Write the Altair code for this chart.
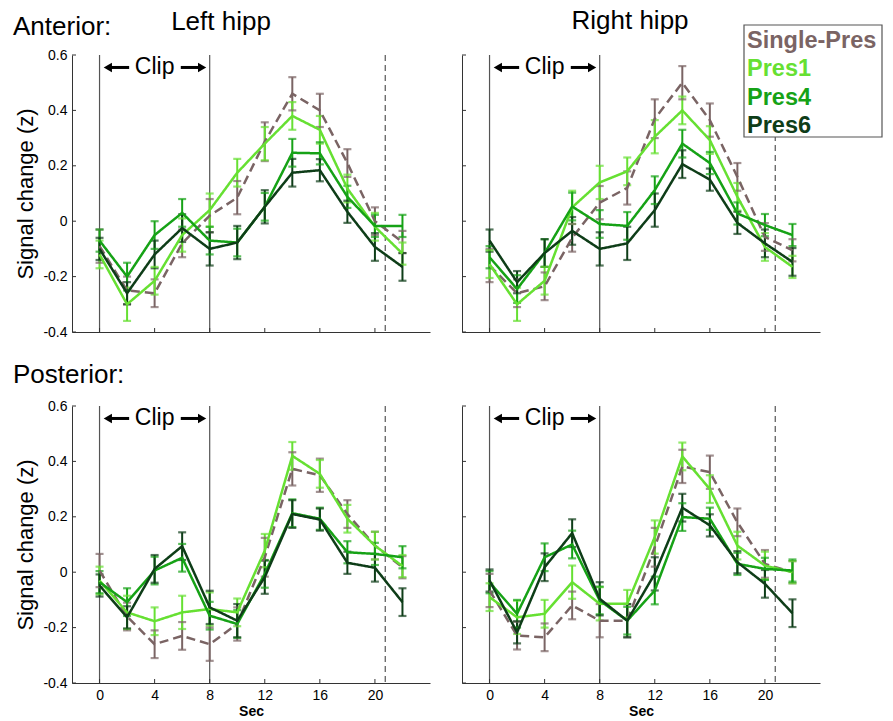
import altair as alt
import pandas as pd

secs = [0, 2, 4, 6, 8, 10, 12, 14, 16, 18, 20, 22]
series_names = ["Single-Pres", "Pres1", "Pres4", "Pres6"]
series_colors = ["#7a6464", "#66e032", "#16a216", "#0e3d18"]

# Anterior, left hippocampus
al_single = [-0.09, -0.25, -0.26, -0.08, 0.02, 0.085, 0.287, 0.46, 0.40, 0.21, 0.0, -0.075]
al_pres1 = [-0.12, -0.30, -0.215, -0.05, 0.04, 0.175, 0.28, 0.38, 0.33, 0.118, -0.02, -0.117]
al_pres4 = [-0.07, -0.20, -0.05, 0.03, -0.07, -0.077, 0.052, 0.247, 0.245, 0.088, -0.017, -0.017]
al_pres6 = [-0.10, -0.26, -0.12, -0.025, -0.10, -0.077, 0.052, 0.175, 0.184, 0.034, -0.093, -0.165]
# Anterior, right hippocampus
ar_single = [-0.16, -0.26, -0.235, -0.06, 0.067, 0.12, 0.37, 0.50, 0.365, 0.16, -0.057, -0.105]
ar_pres1 = [-0.155, -0.30, -0.215, 0.05, 0.14, 0.18, 0.305, 0.40, 0.293, 0.088, -0.093, -0.165]
ar_pres4 = [-0.13, -0.245, -0.115, 0.053, -0.01, -0.017, 0.112, 0.28, 0.21, 0.028, -0.014, -0.05]
ar_pres6 = [-0.07, -0.22, -0.115, -0.035, -0.10, -0.08, 0.04, 0.206, 0.15, -0.006, -0.08, -0.147]
# Posterior, left hippocampus
pl_single = [0.006, -0.16, -0.26, -0.23, -0.26, -0.187, 0.054, 0.373, 0.35, 0.21, 0.096, 0.018]
pl_pres1 = [-0.03, -0.145, -0.177, -0.145, -0.133, -0.145, 0.078, 0.42, 0.355, 0.193, 0.096, 0.022]
pl_pres4 = [-0.036, -0.108, 0.006, 0.052, -0.157, -0.187, -0.006, 0.213, 0.193, 0.072, 0.066, 0.054]
pl_pres6 = [-0.048, -0.163, 0.012, 0.094, -0.127, -0.175, -0.018, 0.21, 0.19, 0.034, 0.016, -0.108]
# Posterior, right hippocampus
pr_single = [-0.066, -0.229, -0.235, -0.12, -0.175, -0.175, 0.09, 0.382, 0.361, 0.18, 0.03, 0.0]
pr_pres1 = [-0.09, -0.163, -0.15, -0.036, -0.114, -0.114, 0.127, 0.418, 0.30, 0.096, 0.024, 0.0]
pr_pres4 = [-0.036, -0.15, 0.054, 0.10, -0.102, -0.175, -0.066, 0.199, 0.193, 0.03, 0.012, 0.006]
pr_pres6 = [-0.03, -0.217, 0.018, 0.141, -0.096, -0.175, -0.006, 0.233, 0.169, 0.036, -0.042, -0.148]

# standard errors (half-length of bars)
err_single = [0.06, 0.05, 0.05, 0.05, 0.06, 0.06, 0.07, 0.06, 0.06, 0.05, 0.05, 0.04]
err_pres1 = [0.05, 0.06, 0.05, 0.06, 0.06, 0.05, 0.06, 0.05, 0.05, 0.05, 0.05, 0.04]
err_pres4 = [0.04, 0.05, 0.05, 0.05, 0.05, 0.05, 0.05, 0.05, 0.04, 0.04, 0.04, 0.04]
err_pres6 = [0.04, 0.04, 0.05, 0.05, 0.06, 0.06, 0.06, 0.05, 0.04, 0.04, 0.05, 0.05]

x_ticks = [0, 4, 8, 12, 16, 20]
y_ticks = [-0.4, -0.2, 0, 0.2, 0.4, 0.6]
clip_lines = [0, 8]
end_line = [20.75]
clip_label_x = [4]
clip_y = [0.555]
arrow_left = [0.3, 2.15]
arrow_right = [5.9, 7.75]

panels = {
    "AL": [al_single, al_pres1, al_pres4, al_pres6],
    "AR": [ar_single, ar_pres1, ar_pres4, ar_pres6],
    "PL": [pl_single, pl_pres1, pl_pres4, pl_pres6],
    "PR": [pr_single, pr_pres1, pr_pres4, pr_pres6],
}
errs = [err_single, err_pres1, err_pres4, err_pres6]

rows = []
for key, vals in panels.items():
    for name, v, e in zip(series_names, vals, errs):
        for s, y, ee in zip(secs, v, e):
            rows.append({"panel": key, "series": name, "x": s, "y": y,
                         "lo": y - ee, "hi": y + ee})
df = pd.DataFrame(rows)

W, H = 358, 277
FONT = "Liberation Sans"
xscale = alt.Scale(domain=[-2, 24], nice=False, zero=False)
yscale = alt.Scale(domain=[-0.4, 0.6], nice=False, zero=False)
cscale = alt.Scale(domain=series_names, range=series_colors)


def panel(key, xlabels, ylabels, title, row_label=None, legend=False):
    d = df[df.panel == key]
    base = alt.Chart(d)
    xaxis = alt.Axis(values=x_ticks, ticks=False, grid=False, labels=xlabels,
                     title="Sec" if xlabels else None, titleFontWeight="bold",
                     titleFontSize=14, labelFontSize=14, labelPadding=5, titlePadding=2,
                     domainColor="#333", labelColor="black", labelFont=FONT, titleFont=FONT,
                     labelAngle=0)
    yaxis = alt.Axis(values=y_ticks, ticks=False, grid=False, labels=ylabels,
                     title="Signal change (z)" if ylabels else None,
                     titleFontWeight="normal", titleFontSize=22, titlePadding=5,
                     labelFontSize=14, labelPadding=5, domainColor="#333",
                     labelColor="black", labelFont=FONT, titleFont=FONT,
                     labelExpr="toString(round(datum.value*10)/10)")

    vl = alt.Chart(pd.DataFrame({"x": clip_lines})).mark_rule(color="#555", strokeWidth=1.2).encode(
        x=alt.X("x:Q", scale=xscale, axis=xaxis))
    vd = alt.Chart(pd.DataFrame({"x": end_line})).mark_rule(color="#555", strokeWidth=1.2,
                                                            strokeDash=[6, 4]).encode(
        x=alt.X("x:Q", scale=xscale))

    err = base.mark_rule(strokeWidth=2).encode(
        x=alt.X("x:Q", scale=xscale),
        y=alt.Y("lo:Q", scale=yscale, axis=yaxis), y2="hi:Q",
        color=alt.Color("series:N", scale=cscale, legend=None))
    cap_lo = base.mark_tick(orient="horizontal", size=8, thickness=2.2).encode(
        x=alt.X("x:Q", scale=xscale), y=alt.Y("lo:Q", scale=yscale),
        color=alt.Color("series:N", scale=cscale, legend=None))
    cap_hi = base.mark_tick(orient="horizontal", size=8, thickness=2.2).encode(
        x=alt.X("x:Q", scale=xscale), y=alt.Y("hi:Q", scale=yscale),
        color=alt.Color("series:N", scale=cscale, legend=None))
    lines = base.mark_line(strokeWidth=2.5).encode(
        x=alt.X("x:Q", scale=xscale), y=alt.Y("y:Q", scale=yscale),
        color=alt.Color("series:N", scale=cscale, legend=None),
        strokeDash=alt.StrokeDash("series:N", scale=alt.Scale(
            domain=series_names, range=[[9, 5], [1, 0], [1, 0], [1, 0]]), legend=None),
        detail="series:N", order="x:Q")

    # ticks pointing inward
    xt = alt.Chart(pd.DataFrame({"t": x_ticks})).mark_rule(color="#333").encode(
        x=alt.X("t:Q", scale=xscale), y=alt.value(H), y2=alt.value(H - 4))
    yt = alt.Chart(pd.DataFrame({"t": y_ticks})).mark_rule(color="#333").encode(
        y=alt.Y("t:Q", scale=yscale), x=alt.value(0), x2=alt.value(4))

    # Clip annotation
    shaft = alt.Chart(pd.DataFrame({"a": [arrow_left[0] + 0.4, arrow_right[0]],
                                    "b": [arrow_left[1], arrow_right[1] - 0.4],
                                    "y": clip_y * 2})).mark_rule(color="black", strokeWidth=3).encode(
        x=alt.X("a:Q", scale=xscale), x2="b:Q", y=alt.Y("y:Q", scale=yscale))
    head_l = alt.Chart(pd.DataFrame({"x": [arrow_left[0] + 0.3], "y": clip_y})).mark_point(
        shape="triangle-left", filled=True, color="black", size=90, opacity=1).encode(
        x=alt.X("x:Q", scale=xscale), y=alt.Y("y:Q", scale=yscale))
    head_r = alt.Chart(pd.DataFrame({"x": [arrow_right[1] - 0.3], "y": clip_y})).mark_point(
        shape="triangle-right", filled=True, color="black", size=90, opacity=1).encode(
        x=alt.X("x:Q", scale=xscale), y=alt.Y("y:Q", scale=yscale))
    clip_t = alt.Chart(pd.DataFrame({"x": clip_label_x, "y": clip_y, "t": ["Clip"]})).mark_text(
        font=FONT, fontSize=23, baseline="middle", align="center", color="black").encode(
        x=alt.X("x:Q", scale=xscale), y=alt.Y("y:Q", scale=yscale), text="t:N")

    layers = [vl, vd, err, cap_lo, cap_hi, lines, xt, yt, shaft, head_l, head_r, clip_t]

    one = pd.DataFrame({"a": [0]})
    if title is not None:
        layers.append(alt.Chart(one).mark_text(font=FONT, fontSize=26, align="center",
                                               baseline="alphabetic", color="black").encode(
            x=alt.value(title[1]), y=alt.value(title[2]), text=alt.value(title[0])))
    if row_label is not None:
        layers.append(alt.Chart(one).mark_text(font=FONT, fontSize=26, align="left",
                                               baseline="alphabetic", color="black").encode(
            x=alt.value(-59), y=alt.value(row_label[1]), text=alt.value(row_label[0])))
    if legend:
        layers.append(alt.Chart(one).mark_rect(fill="white", stroke="#555", strokeWidth=1.2).encode(
            x=alt.value(282), x2=alt.value(420), y=alt.value(-30), y2=alt.value(82)))
        for i, (name, col) in enumerate(zip(series_names, series_colors)):
            layers.append(alt.Chart(one).mark_text(font=FONT, fontSize=23.5, fontWeight="bold",
                                                   align="left", baseline="alphabetic",
                                                   color=col).encode(
                x=alt.value(285), y=alt.value(-7 + 28.3 * i), text=alt.value(name)))
    return alt.layer(*layers).properties(width=W, height=H)


tl = panel("AL", False, True, ("Left hipp", 149, -25), row_label=("Anterior:", -20))
tr = panel("AR", False, False, ("Right hipp", 168, -26), legend=True)
bl = panel("PL", True, True, None, row_label=("Posterior:", -23))
br = panel("PR", True, False, None)

chart = alt.concat(tl, tr, bl, br, columns=2, spacing={"row": 74, "column": 32},
                   bounds="flush").properties(
    padding={"left": 5, "top": 0, "right": 0, "bottom": 0}
).configure(font=FONT).configure_view(stroke=None)

chart.save("out.html", embed_options={"renderer": "svg", "actions": False})
